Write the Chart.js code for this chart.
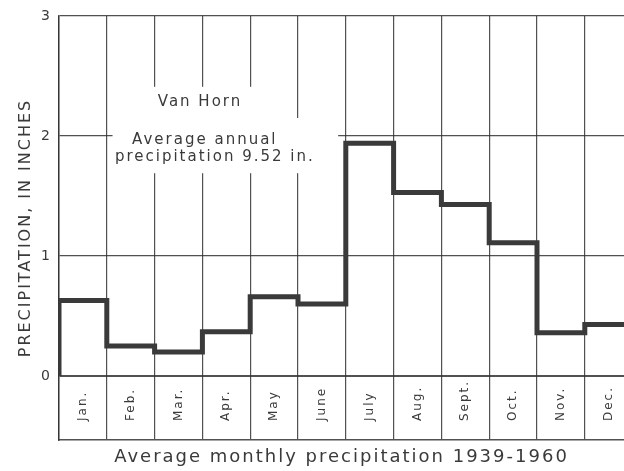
<!DOCTYPE html>
<html>
<head>
<meta charset="utf-8">
<title>Van Horn - average monthly precipitation</title>
<script src="https://cdn.jsdelivr.net/npm/chart.js@4.4.0/dist/chart.umd.min.js"></script>
<style>
  html, body { margin: 0; padding: 0; background: #fff; overflow: hidden; }
</style>
</head>
<body>
<canvas id="chart" width="624" height="471"></canvas>
<script>
// values (inches)
const months = ['Jan.', 'Feb.', 'Mar.', 'Apr.', 'May', 'June', 'July', 'Aug.', 'Sept.', 'Oct.', 'Nov.', 'Dec.'];
const precip = [0.63, 0.25, 0.20, 0.37, 0.66, 0.60, 1.94, 1.53, 1.43, 1.11, 0.36, 0.43];
const yTicks = [0, 1, 2, 3];
const station = 'Van Horn';
const noteLines = ['Average annual', 'precipitation 9.52 in.'];
const xTitle = 'Average monthly precipitation 1939-1960';
const yTitle = 'PRECIPITATION, IN INCHES';

const ink = '#3a3a3a';
const gridInk = 'rgba(50,50,50,0.85)';
const font = '"DejaVu Sans", sans-serif';
Chart.defaults.font.family = font;
Chart.defaults.color = ink;

// one step per month, starting from zero at the left edge
const stepPoints = [{ x: 0, y: 0 }]
  .concat(precip.map((v, i) => ({ x: i, y: v })))
  .concat([{ x: precip.length, y: precip[precip.length - 1] }]);

// where the label block sits (in month / inch units), with white masks behind it
const noteLayout = {
  masks: [
    { x0: 1.12, x1: 4.8, y0: 2.15, y1: 2.41 },
    { x0: 1.12, x1: 5.84, y0: 1.69, y1: 2.15 }
  ],
  text: [
    { x: 2.95, y: 2.283 },
    { x: 3.05, y: 1.967 },
    { x: 3.26, y: 1.825 }
  ]
};

const spacing = {
  id: 'spacing',
  beforeDraw(chart) { chart.ctx.letterSpacing = '2px'; },
  afterDraw(chart) { chart.ctx.letterSpacing = '0px'; }
};

const note = {
  id: 'note',
  beforeDatasetsDraw(chart) {
    const { ctx, scales: { x, y } } = chart;
    ctx.save();
    ctx.fillStyle = '#fff';
    noteLayout.masks.forEach(m => {
      const l = x.getPixelForValue(m.x0), r = x.getPixelForValue(m.x1);
      const t = y.getPixelForValue(m.y1), b = y.getPixelForValue(m.y0);
      ctx.fillRect(l, t, r - l, b - t);
    });
    ctx.fillStyle = ink;
    ctx.font = '15px ' + font;
    ctx.textAlign = 'center';
    ctx.textBaseline = 'middle';
    ctx.letterSpacing = '2px';
    [station].concat(noteLines).forEach((txt, i) => {
      const p = noteLayout.text[i];
      ctx.fillText(txt, x.getPixelForValue(p.x), y.getPixelForValue(p.y));
    });
    ctx.restore();
  }
};

new Chart(document.getElementById('chart'), {
  type: 'line',
  data: {
    datasets: [{
      data: stepPoints,
      stepped: 'before',
      borderColor: ink,
      borderWidth: 5,
      borderJoinStyle: 'miter',
      borderCapStyle: 'butt',
      pointRadius: 0,
      fill: false
    }]
  },
  options: {
    responsive: false,
    animation: false,
    devicePixelRatio: 1,
    layout: { padding: 0 },
    plugins: { legend: { display: false }, tooltip: { enabled: false } },
    scales: {
      x: {
        type: 'linear',
        position: 'bottom',
        min: 0,
        max: 11.82,
        afterBuildTicks: s => { s.ticks = months.map((m, i) => ({ value: i })); },
        ticks: { display: false },
        grid: { color: gridInk, lineWidth: 1.2, drawTicks: false },
        border: { display: true, color: gridInk, width: 1.5 },
        title: {
          display: true,
          text: xTitle,
          color: ink,
          font: { size: 18 },
          padding: { top: 0, bottom: 3 }
        },
        afterFit: s => { s.height = 31; }
      },
      // month names: a mirrored top axis whose labels are pushed down into the
      // box under the zero line, so they all start on one line and read upwards
      months: {
        type: 'linear',
        axis: 'x',
        position: 'top',
        min: 0,
        max: 11.82,
        afterBuildTicks: s => { s.ticks = months.map((m, i) => ({ value: i + 0.5 })); },
        grid: { display: false, drawTicks: false },
        border: { display: false },
        ticks: {
          autoSkip: false,
          minRotation: 90,
          maxRotation: 90,
          mirror: true,
          padding: 405,
          color: ink,
          font: { size: 12 },
          callback: (v, i) => months[i]
        },
        afterFit: s => {
          s.height = 16;
          s.paddingLeft = 0;
          s.paddingRight = 0;
        }
      },
      y: {
        min: -0.533,
        max: 3,
        afterBuildTicks: s => { s.ticks = yTicks.map(v => ({ value: v })); },
        grid: {
          color: gridInk,
          lineWidth: c => (c.tick && c.tick.value === 0 ? 2 : 1.2),
          drawTicks: false
        },
        border: { display: true, color: gridInk, width: 1.5 },
        ticks: { padding: 7, color: ink, font: { size: 14 }, callback: v => v },
        title: {
          display: true,
          text: yTitle,
          color: ink,
          font: { size: 16 },
          padding: { top: 16, bottom: 0 }
        },
        afterFit: s => { s.width = 59; }
      }
    }
  },
  plugins: [spacing, note]
});
</script>
</body>
</html>
